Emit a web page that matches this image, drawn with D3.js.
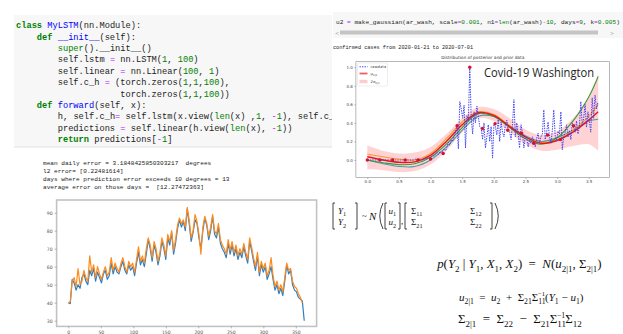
<!DOCTYPE html>
<html>
<head>
<meta charset="utf-8">
<script src="https://cdn.jsdelivr.net/npm/d3@7"></script>
<style>
  body { margin: 0; background: #fff; }
  svg { display: block; }
  text { white-space: pre; }
</style>
</head>
<body>
<div id="dataviz"></div>
<script>
// ---- text content ----
var codeLines = [
  "class MyLSTM(nn.Module):",
  "    def __init__(self):",
  "        super().__init__()",
  "        self.lstm = nn.LSTM(1, 100)",
  "        self.linear = nn.Linear(100, 1)",
  "        self.c_h = (torch.zeros(1,1,100),",
  "                    torch.zeros(1,1,100))",
  "    def forward(self, x):",
  "        h, self.c_h= self.lstm(x.view(len(x) ,1, -1), self.c_h)",
  "        predictions = self.linear(h.view(len(x), -1))",
  "        return predictions[-1]"
];
var cellLine = "u2 = make_gaussian(ar_wash, scale=0.001, n1=len(ar_wash)-10, days=9, k=0.005)";
var cellOutput = "confirmed cases from 2020-01-21 to 2020-07-01";
var errLines = [
  "mean daily error = 3.1848425850303217  degrees",
  "l2 error= [0.22481614]",
  "days where prediction error exceeds 10 degrees = 13",
  "average error on those days =  [12.27472363]"
];

// ---- covid chart data (x in scaled time units, 1 day = 0.0225) ----
var dayStep = 0.0225;
var rawdata = [
  0,0,0,0,0,0,0,0,0,0, 0,0,0,0,0,0,0,0,0,0,
  0,0,0,0,0,0,0,0,0,0, 0,0,0,0,0.01,0,0,0.01,0,0.01,
  0.01,0.02,0.01,0.03,0.02,0.03,0.05,0.04,0.06,0.08,
  0.06,0.09,0.07,0.1,0.12,0.1,0.14,0.19,0.16,0.22,
  0.2,0.26,0.3,0.37,0.12,0.63,0.55,0.45,0.59,0.13,
  0.48,0.42,1.0,0.46,0.28,0.52,0.4,0.58,0.47,0.36,
  0.34,0.22,0.4,0.13,0.25,0.38,0.2,0.36,0.02,0.39,
  0.36,0.27,0.45,0.2,0.41,0.3,0.25,0.38,0.43,0.32,
  0.3,0.22,0.38,0.65,0.25,0.4,0.28,0.13,0.38,0.29,
  0.13,0.26,0.24,0.14,0.22,0.18,0.25,0.2,0.14,0.23,
  0.29,0.18,0.25,0.28,0.54,0.22,0.3,0.41,0.25,0.18,
  0.32,0.54,0.26,0.2,0.31,0.28,0.52,0.11,0.25,0.3,
  0.38,0.25,0.32,0.22,0.4,0.35,0.3,0.42,0.28,0.36,
  0.63,0.38,0.45,0.6,0.35,0.52,0.42,0.3,0.67,0.45,
  0.7,0.55,0.62
];
var obsX = [0, 0.2, 0.4, 0.6, 0.8, 1.0, 1.2, 1.42, 1.62, 1.82, 2.02, 2.22, 2.44, 2.63, 2.85, 3.05, 3.26];
var obsY = [0, 0, 0, 0, 0, 0.01, 0.07, 0.37, 1.0, 0.34, 0.39, 0.32, 0.29, 0.18, 0.27, 0.22, 0.37];

var curveX = [0, 0.25, 0.5, 0.75, 1.0, 1.25, 1.5, 1.75, 2.0, 2.25, 2.5, 2.75, 3.0, 3.25, 3.5, 3.65];
var muRed    = [0.035, 0.0, -0.025, -0.02, 0.05, 0.2, 0.38, 0.51, 0.48, 0.36, 0.25, 0.18, 0.21, 0.3, 0.43, 0.52];
var muGreen  = [0.0, -0.03, -0.05, -0.04, 0.03, 0.17, 0.35, 0.5, 0.47, 0.35, 0.23, 0.17, 0.24, 0.42, 0.68, 0.9];
var muOrange = [0.065, 0.035, 0.01, 0.0, 0.07, 0.23, 0.41, 0.52, 0.49, 0.37, 0.25, 0.19, 0.22, 0.32, 0.47, 0.6];
var muTeal   = [0.0, -0.04, -0.07, -0.07, 0.0, 0.14, 0.32, 0.47, 0.47, 0.37, 0.26, 0.2, 0.24, 0.32, 0.42, 0.44];
var bandUpper = [0.16, 0.1, 0.07, 0.08, 0.14, 0.28, 0.45, 0.57, 0.55, 0.45, 0.33, 0.27, 0.31, 0.45, 0.68, 0.93];
var bandLower = [-0.1, -0.11, -0.13, -0.12, -0.05, 0.1, 0.3, 0.45, 0.42, 0.3, 0.17, 0.1, 0.11, 0.15, 0.17, 0.1];
var covidXTicks = [0, 0.5, 1.0, 1.5, 2.0, 2.5, 3.0, 3.5];
var covidYTicks = [0, 0.2, 0.4, 0.6, 0.8, 1.0];

// ---- temperature chart data (one value every 3 days) ----
var tempStep = 3;
var tempActual = [
  40,39.5,53,51,47,50,48,54,56,52, 50,58,55,59,52,57,54,51,56,58,
  53,55,62,56,60,57,56,60,63,58, 56,61,58,60,55,62,68,61,64,60,
  67,75,70,63,72,68,61,66,74,70, 64,76,72,79,67,73,81,86,82,85,
  80,92,84,74,79,86,84,76,70,80, 87,83,75,80,88,78,76,82,73,70,
  68,65,73,67,72,66,70,64,68,65, 71,66,62,74,69,63,58,66,55,61,
  57,60,53,56,60,53,47,50,45,48, 44,52,61,56,58,50,47,46,43,42,
  41,30
];
var tempPred = [
  40,40.5,52,54,49,59,50,52,58,54, 52,66,57,61,54,60,56,53,57,60,
  55,57,65,58,62,59,57,62,65,60, 57,63,60,62,57,64,71,63,66,62,
  70,76,72,65,74,70,63,68,76,72, 66,78,74,80,69,75,83,87,84,86,
  82,93,86,76,80,89,85,78,67,82, 88,84,77,82,89,80,78,84,75,72,
  70,67,75,69,74,68,72,66,70,67, 73,68,64,76,71,65,60,68,57,63,
  59,62,55,58,65,55,49,52,47,50, 46,54,62,58,59,52,49,48,45,43,
  40
];
var tempXTicks = [0, 50, 100, 150, 200, 250, 300, 350];
var tempYTicks = [30, 40, 50, 60, 70, 80, 90];

// ---- formula pieces ----
var formula2 = [["p","i"],["(","r"],["Y","i"],["2","sub"],[" | ","r"],["Y","i"],["1","sub"],[", ","r"],["X","i"],["1","sub"],[", ","r"],["X","i"],["2","sub"],[")  =  ","r"],["N","i"],["(","r"],["u","i"],["2|1","sub"],[", ","r"],["Σ","r"],["2|1","sub"],[")","r"]];
var formula3 = [["u","i"],["2|1","sub"],["  =  ","r"],["u","i"],["2","sub"],["  +  ","r"],["Σ","r"],["21","sub"],["Σ","r"],["11","subsup","−1"],["(","r"],["Y","i"],["1","sub"],[" − ","r"],["u","i"],["1","sub"],[")","r"]];
var formula4 = [["Σ","r"],["2|1","sub"],["  =  ","r"],["Σ","r"],["22","sub"],["  −  ","r"],["Σ","r"],["21","sub"],["Σ","r"],["11","subsup","−1"],["Σ","r"],["12","sub"]];

var W = 623, H = 334;
var mono = '"Liberation Mono", "DejaVu Sans Mono", monospace';
var sans = '"DejaVu Sans", sans-serif';
var serif = '"Liberation Serif", "DejaVu Serif", serif';

var svg = d3.select("#dataviz").append("svg")
    .attr("width", W)
    .attr("height", H)
    .attr("viewBox", `0 0 ${W} ${H}`);

var defs = svg.append("defs");
defs.append("clipPath").attr("id", "clipCode")
    .append("rect").attr("x", 14).attr("y", 14).attr("width", 318).attr("height", 134);
defs.append("clipPath").attr("id", "clipCell")
    .append("rect").attr("x", 333).attr("y", 12).attr("width", 287).attr("height", 30);

// simple python highlighter
function pyLine(sel, line) {
    var toks = line.match(/\s+|[A-Za-z_]\w*|\d+(\.\d+)?|./g) || [];
    var prevWord = null;
    toks.forEach(function(t) {
        var fill = "#222", weight = "normal";
        if (/^(class|def|return)$/.test(t)) { fill = "#008000"; weight = "bold"; }
        else if (/^(super|len)$/.test(t)) fill = "#008000";
        else if (/^\d/.test(t)) fill = "#008000";
        else if (t === "=" || t === "-") fill = "#aa22ff";
        else if ((prevWord === "class" || prevWord === "def") && /^\w/.test(t)) fill = "#0000ff";
        sel.append("tspan").attr("fill", fill).attr("font-weight", weight).text(t);
        if (/\S/.test(t)) prevWord = t;
    });
}

// ================= code cell =================
svg.append("rect")
    .attr("x", 14).attr("y", 15).attr("width", 318).attr("height", 132)
    .attr("fill", "#f7f7f7");
svg.append("line")
    .attr("x1", 14).attr("x2", 332).attr("y1", 147).attr("y2", 147)
    .attr("stroke", "#e2e2e2").attr("stroke-width", 1);

var codeG = svg.append("g").attr("clip-path", "url(#clipCode)");
codeLines.forEach(function(line, i) {
    var t = codeG.append("text")
        .attr("x", 16)
        .attr("y", 28.3 + i * 11.37)
        .attr("font-family", mono)
        .attr("font-size", 8.7);
    pyLine(t, line);
});

// ================= covid cell =================
svg.append("rect")
    .attr("x", 333).attr("y", 12).attr("width", 290).attr("height", 26)
    .attr("fill", "#f7f7f7");
var cellG = svg.append("g").attr("clip-path", "url(#clipCell)");
var cellT = cellG.append("text")
    .attr("x", 336).attr("y", 24)
    .attr("font-family", mono).attr("font-size", 6.15);
pyLine(cellT, cellLine);
svg.append("rect")
    .attr("x", 340).attr("y", 30.5).attr("width", 258).attr("height", 4)
    .attr("fill", "#c4c4c4");
svg.append("text").attr("x", 335).attr("y", 34.5).attr("font-family", sans)
    .attr("font-size", 5).attr("fill", "#aaa").text("<");
svg.append("text").attr("x", 610).attr("y", 34.5).attr("font-family", sans)
    .attr("font-size", 5).attr("fill", "#aaa").text(">");
svg.append("text")
    .attr("x", 333).attr("y", 49)
    .attr("font-family", mono).attr("font-size", 5.2).attr("fill", "#222")
    .text(cellOutput);

// ---- covid chart ----
var cx = d3.scaleLinear().domain([-0.18, 3.83]).range([355.9, 609.6]);
var cy = d3.scaleLinear().domain([-0.19, 1.06]).range([177.6, 61.7]);

svg.append("text")
    .attr("x", (355.9 + 609.6) / 2).attr("y", 58.5)
    .attr("text-anchor", "middle")
    .attr("font-family", sans).attr("font-size", 4.3).attr("fill", "#333")
    .text("Distribution of posterior and prior data");

var covidG = svg.append("g");

var band = d3.area()
    .x(function(d, i) { return cx(curveX[i]); })
    .y0(function(d, i) { return cy(bandLower[i]); })
    .y1(function(d, i) { return cy(bandUpper[i]); })
    .curve(d3.curveCatmullRom);
covidG.append("path").datum(bandUpper)
    .attr("d", band)
    .attr("fill", "#ffc4c4").attr("opacity", 0.75);

var curveLine = d3.line()
    .x(function(d, i) { return cx(curveX[i]); })
    .y(function(d) { return cy(d); })
    .curve(d3.curveCatmullRom);

var curves = [
    { vals: muTeal, color: "#4f9aa6", w: 1.1 },
    { vals: muOrange, color: "#ff9926", w: 1.1 },
    { vals: muGreen, color: "#3a9a3a", w: 1.1 },
    { vals: muRed, color: "#e8131b", w: 1.4 }
];
curves.forEach(function(c) {
    covidG.append("path").datum(c.vals)
        .attr("d", curveLine)
        .attr("fill", "none")
        .attr("stroke", c.color)
        .attr("stroke-width", c.w);
});

var rawLine = d3.line()
    .x(function(d, i) { return cx(i * dayStep); })
    .y(function(d) { return cy(d); });
covidG.append("path").datum(rawdata)
    .attr("d", rawLine)
    .attr("fill", "none")
    .attr("stroke", "#3f3ff5")
    .attr("stroke-width", 1)
    .attr("stroke-dasharray", "1.4,1.1");

covidG.selectAll(".obs").data(obsY).enter().append("circle")
    .attr("class", "obs")
    .attr("cx", function(d, i) { return cx(obsX[i]); })
    .attr("cy", function(d) { return cy(d); })
    .attr("r", 1.7)
    .attr("fill", "#d8102a");

// frame + axes
svg.append("rect")
    .attr("x", 355.9).attr("y", 61.7).attr("width", 609.6 - 355.9).attr("height", 177.6 - 61.7)
    .attr("fill", "none").attr("stroke", "#8a8a8a").attr("stroke-width", 0.6);

var cxAxis = svg.append("g")
    .attr("transform", "translate(0,177.6)")
    .call(d3.axisBottom(cx).tickValues(covidXTicks).tickFormat(d3.format(".1f")).tickSize(1.5).tickPadding(1.5));
var cyAxis = svg.append("g")
    .attr("transform", "translate(355.9,0)")
    .call(d3.axisLeft(cy).tickValues(covidYTicks).tickFormat(d3.format(".1f")).tickSize(1.5).tickPadding(1.5));
[cxAxis, cyAxis].forEach(function(a) {
    a.select(".domain").remove();
    a.selectAll("line").attr("stroke", "#777").attr("stroke-width", 0.5);
    a.selectAll("text").attr("font-family", sans).attr("font-size", 4).attr("fill", "#444");
});

// legend
var lg = svg.append("g");
lg.append("rect")
    .attr("x", 357.5).attr("y", 63).attr("width", 30).attr("height", 23).attr("rx", 1)
    .attr("fill", "#fff").attr("stroke", "#ddd").attr("stroke-width", 0.5);
lg.append("line").attr("x1", 359.5).attr("x2", 367.5).attr("y1", 66.8).attr("y2", 66.8)
    .attr("stroke", "#3f3ff5").attr("stroke-width", 1).attr("stroke-dasharray", "1.4,1.1");
lg.append("line").attr("x1", 359.5).attr("x2", 367.5).attr("y1", 73.5).attr("y2", 73.5)
    .attr("stroke", "#f06060").attr("stroke-width", 1.8);
lg.append("rect").attr("x", 359.5).attr("y", 79.8).attr("width", 8).attr("height", 3.4)
    .attr("fill", "#ffcccc");
lg.append("text").attr("x", 370.5).attr("y", 68.2).attr("font-family", sans)
    .attr("font-size", 3.8).attr("fill", "#444").text("rawdata");
var lmu = lg.append("text").attr("x", 370.5).attr("y", 74.8).attr("font-family", sans)
    .attr("font-size", 3.8).attr("fill", "#444");
lmu.append("tspan").text("μ");
lmu.append("tspan").attr("font-size", 2.7).attr("dy", 1).text("2|1");
var lsig = lg.append("text").attr("x", 370.5).attr("y", 82.5).attr("font-family", sans)
    .attr("font-size", 3.8).attr("fill", "#444");
lsig.append("tspan").text("2σ");
lsig.append("tspan").attr("font-size", 2.7).attr("dy", 1).text("2|1");

svg.append("text")
    .attr("x", 484).attr("y", 77)
    .attr("font-family", '"Open Sans", "Liberation Sans", sans-serif')
    .attr("font-size", 13)
    .attr("textLength", 110).attr("lengthAdjust", "spacingAndGlyphs")
    .attr("fill", "#222")
    .text("Covid-19 Washington");

// ================= temperature cell =================
errLines.forEach(function(line, i) {
    svg.append("text")
        .attr("x", 43).attr("y", 164.6 + i * 8)
        .attr("font-family", mono).attr("font-size", 6.1).attr("fill", "#222")
        .text(line);
});

var tx = d3.scaleLinear().domain([-18, 382]).range([56.6, 316.6]);
var ty = d3.scaleLinear().domain([26.85, 96.15]).range([326.4, 201.6]);

var tempLine = d3.line()
    .x(function(d, i) { return tx(i * tempStep); })
    .y(function(d) { return ty(d); });

svg.append("path").datum(tempActual)
    .attr("d", tempLine).attr("fill", "none")
    .attr("stroke", "#2f7fc0").attr("stroke-width", 1.2).attr("stroke-linejoin", "round");
svg.append("path").datum(tempPred)
    .attr("d", tempLine).attr("fill", "none")
    .attr("stroke", "#ff8a1c").attr("stroke-width", 1.2).attr("stroke-linejoin", "round");

svg.append("rect")
    .attr("x", 56.6).attr("y", 200).attr("width", 316.6 - 56.6).attr("height", 326.4 - 200)
    .attr("fill", "none").attr("stroke", "#c2c2c2").attr("stroke-width", 1.6);

var txAxis = svg.append("g")
    .attr("transform", "translate(0,326.4)")
    .call(d3.axisBottom(tx).tickValues(tempXTicks).tickSize(2).tickPadding(2));
var tyAxis = svg.append("g")
    .attr("transform", "translate(56.6,0)")
    .call(d3.axisLeft(ty).tickValues(tempYTicks).tickSize(2).tickPadding(2));
[txAxis, tyAxis].forEach(function(a) {
    a.select(".domain").remove();
    a.selectAll("line").attr("stroke", "#777").attr("stroke-width", 0.5);
    a.selectAll("text").attr("font-family", sans).attr("font-size", 4.6).attr("fill", "#555");
});

// ================= formulas =================
var fg = svg.append("g").attr("fill", "#111").attr("font-family", serif);

function mathText(parent, toks, fs) {
    var t = parent.append("text").attr("font-size", fs);
    var shift = 0;
    toks.forEach(function(k) {
        if (k[1] === "sub") {
            t.append("tspan").attr("font-size", fs * 0.7).attr("font-style", "normal")
                .attr("dy", 0.3 * fs - shift).text(k[0]);
            shift = 0.3 * fs;
        } else if (k[1] === "subsup") {
            t.append("tspan").attr("font-size", fs * 0.7)
                .attr("dy", 0.3 * fs - shift).text(k[0]);
            t.append("tspan").attr("font-size", fs * 0.6)
                .attr("dx", -0.7 * fs).attr("dy", -0.75 * fs).text(k[2]);
            shift = -0.45 * fs;
        } else {
            t.append("tspan").attr("font-size", fs)
                .attr("font-style", k[1] === "i" ? "italic" : "normal")
                .attr("dy", -shift).text(k[0]);
            shift = 0;
        }
    });
    return t;
}

function fitMath(toks, fs, x0, x1, ymid) {
    var g = fg.append("g");
    var t = mathText(g, toks, fs);
    var b = t.node().getBBox();
    var s = (x1 - x0) / b.width;
    g.attr("transform", "translate(" + (x0 - b.x * s) + "," + (ymid - (b.y + b.height / 2) * s) + ") scale(" + s + ")");
}

function bracket(x0, x1, y0, y1) {
    fg.append("path")
        .attr("d", "M" + (x0 + 2) + "," + y0 + "H" + x0 + "V" + y1 + "H" + (x0 + 2) +
                   "M" + (x1 - 2) + "," + y0 + "H" + x1 + "V" + y1 + "H" + (x1 - 2))
        .attr("fill", "none").attr("stroke", "#111").attr("stroke-width", 0.8);
}

// joint distribution line
bracket(333, 357, 203, 229);
mathText(fg.append("g").attr("transform", "translate(338,213.5)"), [["Y","i"],["1","sub"]], 9);
mathText(fg.append("g").attr("transform", "translate(338,225)"), [["Y","i"],["2","sub"]], 9);
fg.append("text").attr("x", 362).attr("y", 218.5).attr("font-size", 9).text("~");
fg.append("text").attr("x", 369).attr("y", 220).attr("font-size", 11).attr("font-style", "italic").text("N");
fg.append("path").attr("d", "M383,203 Q376.5,216 383,229").attr("fill", "none").attr("stroke", "#111").attr("stroke-width", 0.8);
fg.append("path").attr("d", "M495,203 Q501.5,216 495,229").attr("fill", "none").attr("stroke", "#111").attr("stroke-width", 0.8);
bracket(385, 400, 203, 229);
mathText(fg.append("g").attr("transform", "translate(388.5,213.5)"), [["u","i"],["1","sub"]], 9);
mathText(fg.append("g").attr("transform", "translate(388.5,225)"), [["u","i"],["2","sub"]], 9);
fg.append("text").attr("x", 401).attr("y", 224).attr("font-size", 9).text(",");
bracket(405, 492, 203, 229);
[["11", 411, 213.5], ["12", 470, 213.5], ["21", 411, 225], ["22", 470, 225]].forEach(function(s) {
    mathText(fg.append("g").attr("transform", "translate(" + s[1] + "," + s[2] + ")"), [["Σ","r"],[s[0],"sub"]], 9);
});

fitMath(formula2, 11, 436, 602, 265);
fitMath(formula3, 11, 459, 584, 298);
fitMath(formula4, 11, 458, 582, 320);
</script>
</body>
</html>
